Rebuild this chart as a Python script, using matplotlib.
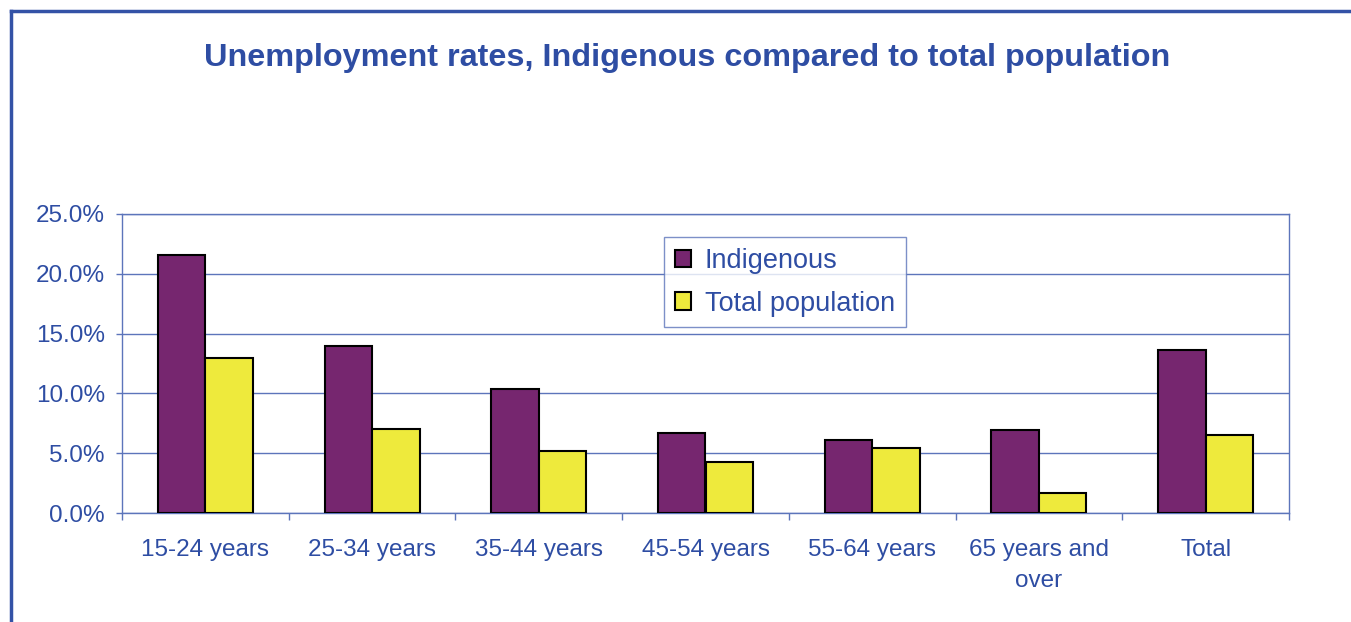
import matplotlib
matplotlib.use("Agg")
import matplotlib.pyplot as plt
from matplotlib.lines import Line2D
import numpy as np

# --- data ---
categories = ["15-24 years", "25-34 years", "35-44 years", "45-54 years",
              "55-64 years", "65 years and\nover", "Total"]
indigenous = [21.6, 14.0, 10.4, 6.7, 6.1, 6.9, 13.6]
total_pop = [13.0, 7.0, 5.2, 4.3, 5.4, 1.7, 6.5]
yticks = [0, 5, 10, 15, 20, 25]

blue = "#2E4DA3"
purple = "#76266F"
yellow = "#EEEA3C"
grid = "#5C75BB"

plt.rcParams["font.family"] = ["Liberation Sans", "DejaVu Sans"]

W, H = 1351, 622
fig = plt.figure(figsize=(W / 100, H / 100), dpi=100)
ax = fig.add_axes([122 / W, 1 - 513 / H, (1289 - 122) / W, (513 - 214) / H])

x = np.arange(len(categories))
bw = 0.285
ax.bar(x - bw / 2, indigenous, bw, color=purple, edgecolor="black", linewidth=1.5,
       label="Indigenous", zorder=3)
ax.bar(x + bw / 2, total_pop, bw, color=yellow, edgecolor="black", linewidth=1.5,
       label="Total population", zorder=3)

ax.set_xlim(-0.5, len(categories) - 0.5)
ax.set_ylim(0, 25)
ax.set_yticks(yticks)
ax.set_yticklabels([f"{v:.1f}%" for v in yticks])
ax.yaxis.grid(True, color=grid, linewidth=1)
ax.set_axisbelow(True)

ax.set_xticks(x)
ax.set_xticklabels(categories, linespacing=1.5, va="top")
ax.set_xticks(np.arange(len(categories) + 1) - 0.5, minor=True)
ax.tick_params(axis="x", which="major", length=0, pad=19, labelsize=17.5, labelcolor=blue)
ax.tick_params(axis="x", which="minor", length=5, direction="out", color=grid, width=1)
ax.tick_params(axis="y", length=4.3, direction="out", color=grid, width=1,
               labelsize=17.5, labelcolor=blue, pad=8)
for s in ax.spines.values():
    s.set_color(grid)
    s.set_linewidth(1)

leg = ax.legend(loc="upper left", bbox_to_anchor=((664 - 122) / (1289 - 122), 1 - (237 - 214) / 299),
                fontsize=19.5, frameon=True, fancybox=False, borderaxespad=0,
                handlelength=0.6, handleheight=0.6, handletextpad=0.5,
                borderpad=0.4, labelspacing=0.62)
leg.get_frame().set_edgecolor(grid)
leg.get_frame().set_linewidth(1)
for t in leg.get_texts():
    t.set_color(blue)

fig.text(687 / W, 1 - 58 / H, "Unemployment rates, Indigenous compared to total population",
         ha="center", va="center", fontsize=23.3, fontweight="bold", color=blue)

# outer chart border (left and top edges visible)
fig.add_artist(Line2D([11 / W, 11 / W], [0, 1 - 11 / H], color="#3352A6", linewidth=2.5))
fig.add_artist(Line2D([11 / W, 1], [1 - 11 / H, 1 - 11 / H], color="#3352A6", linewidth=2.5))

fig.savefig("out.png", dpi=100)
